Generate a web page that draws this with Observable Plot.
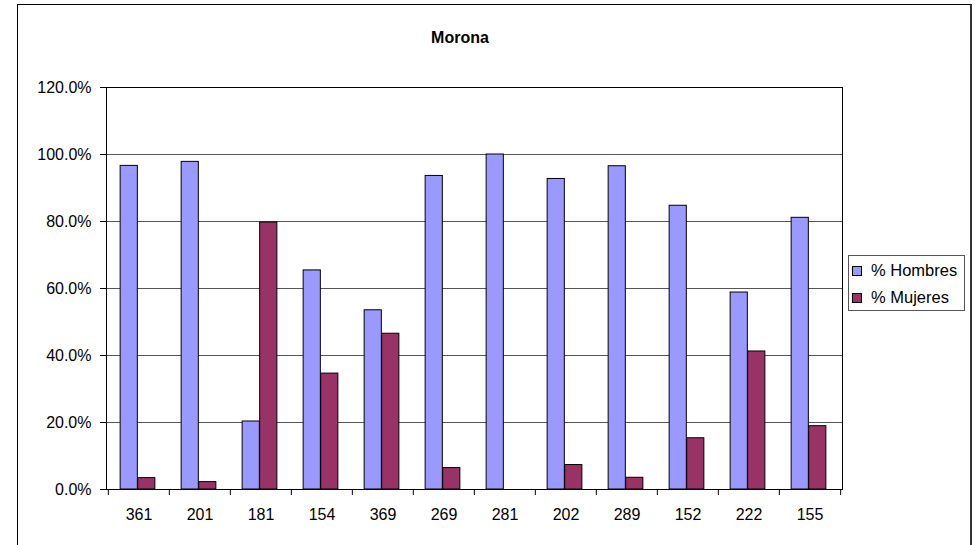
<!DOCTYPE html>
<html>
<head>
<meta charset="utf-8">
<script src="https://cdn.jsdelivr.net/npm/d3@7"></script>
<script src="https://cdn.jsdelivr.net/npm/@observablehq/plot@0.6"></script>
<style>
  html, body { margin: 0; padding: 0; background: #fff; }
  #wrap { position: relative; width: 976px; height: 545px; overflow: hidden; font-family: "Liberation Sans", Arial, sans-serif; }
  #border { position: absolute; left: 17px; top: 4px; width: 955px; height: 600px; border: 1px solid #000; border-right: 2px solid #333; box-sizing: border-box; }
  #title { position: absolute; left: 0; width: 920px; top: 29px; text-align: center; font-weight: bold; font-size: 16px; color: #000; }
  #chart { position: absolute; left: 0; top: 0; }
  #legend { position: absolute; left: 848px; top: 255px; width: 117px; height: 56px; border: 1px solid #555; box-sizing: border-box; background: #fff; font-size: 16.5px; color: #000; }
  .item { position: absolute; left: 3px; display: flex; align-items: center; }
  .sw { width: 8px; height: 8px; border: 1px solid #000; margin-right: 9px; }
</style>
</head>
<body>
<div id="wrap">
  <div id="border"></div>
  <div id="chart"></div>
  <div id="title"></div>
  <div id="legend"></div>
</div>
<script>
const title = "Morona";
const categories = ["361", "201", "181", "154", "369", "269", "281", "202", "289", "152", "222", "155"];
const hombres = [96.6, 97.8, 20.3, 65.4, 53.5, 93.6, 100.0, 92.7, 96.5, 84.7, 58.8, 81.1];
const mujeres = [3.4, 2.2, 79.7, 34.6, 46.5, 6.4, 0.0, 7.3, 3.5, 15.3, 41.2, 18.9];
const seriesNames = ["% Hombres", "% Mujeres"];
const colors = ["#9999FF", "#993366"];
const yTicks = [0, 20, 40, 60, 80, 100, 120];

const W = 976, H = 545;
const mL = 106, mR = 134, mT = 87, mB = 56;
const bw = (W - mL - mR) / categories.length;
const step = bw / 3.5; // Excel gap width 150%

const dataH = categories.map((c, i) => ({cat: c, v: hombres[i]}));
const dataM = categories.map((c, i) => ({cat: c, v: mujeres[i]}));

const chart = Plot.plot({
  width: W,
  height: H,
  marginLeft: mL,
  marginRight: mR,
  marginTop: mT,
  marginBottom: mB,
  style: {fontFamily: "'Liberation Sans', Arial, sans-serif", fontSize: "16px", color: "#000", background: "transparent"},
  x: {domain: categories, padding: 0, label: null},
  y: {domain: [0, 120], label: null},
  marks: [
    Plot.ruleY([20, 40, 60, 80, 100], {stroke: "#555", strokeWidth: 1}),
    Plot.barY(dataH, {x: "cat", y: "v", fill: colors[0], stroke: "#000", strokeWidth: 1,
      insetLeft: 0.75 * step - 1, insetRight: 1.75 * step + 1}),
    Plot.barY(dataM, {x: "cat", y: "v", fill: colors[1], stroke: "#000", strokeWidth: 1,
      insetLeft: 1.75 * step - 1, insetRight: 0.75 * step + 1}),
    Plot.frame({stroke: "#000", strokeWidth: 1}),
    Plot.axisY({ticks: yTicks, tickFormat: d => d.toFixed(1) + "%", tickSize: 6, tickPadding: 9, fontSize: 16, stroke: "#000"}),
    Plot.axisX({tickSize: 0, tickPadding: 19, fontSize: 16}),
    Plot.axisX({tickSize: 6, tickFormat: () => "", dx: -bw / 2, stroke: "#000"}),
    Plot.axisX({ticks: [categories[categories.length - 1]], tickSize: 6, tickFormat: () => "", dx: bw / 2, stroke: "#000"})
  ]
});
document.getElementById("chart").appendChild(chart);
document.getElementById("title").textContent = title;

const legend = document.getElementById("legend");
seriesNames.forEach((name, i) => {
  const item = document.createElement("div");
  item.className = "item";
  item.style.top = (5 + i * 27) + "px";
  const sw = document.createElement("div");
  sw.className = "sw";
  sw.style.background = colors[i];
  const label = document.createElement("span");
  label.textContent = name;
  item.appendChild(sw);
  item.appendChild(label);
  legend.appendChild(item);
});
</script>
</body>
</html>
